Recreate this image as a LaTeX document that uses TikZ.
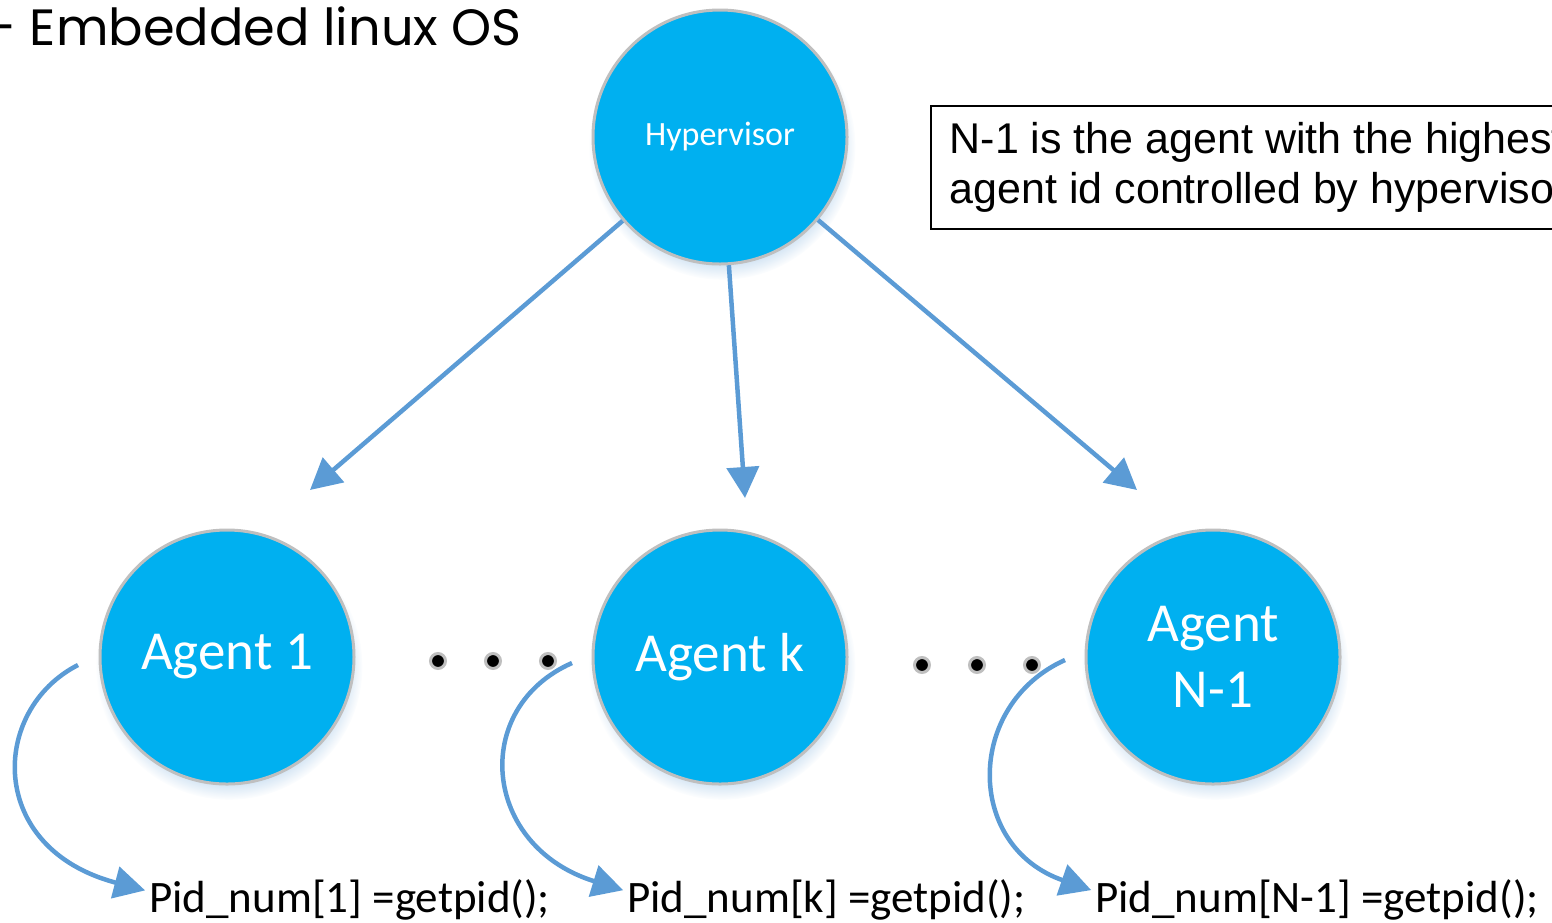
\documentclass[tikz,border=0pt]{standalone}
\usepackage{fontspec}
\setmainfont{Carlito}
\newfontfamily\arialfont{Liberation Sans}
\newfontfamily\gothicfont{Poppins}
\usetikzlibrary{arrows.meta, positioning, shadows, calc}
\definecolor{ccyan}{HTML}{00B0F0}
\definecolor{cblue}{HTML}{5B9BD5}
\definecolor{crim}{HTML}{BFBFBF}
\tikzset{
  every picture/.style={x=1pt, y=-1pt},
  agent/.style={circle, draw=crim, fill=ccyan, line width=3pt, minimum size=254pt, inner sep=0pt, text=white, align=center,
    font=\fontsize{55}{66}\selectfont,
    circular drop shadow={shadow xshift=2pt, shadow yshift=-9pt, shadow scale=1.05, fill=cblue!80, opacity=.4}},
  arrow/.style={-{Triangle[length=31pt, width=32pt]}, draw=cblue, line width=4.5pt},
  call/.style={font=\fontsize{45}{50}\selectfont, anchor=base west, inner sep=0pt},
  note/.style={draw=black, line width=1.5pt, align=left, inner xsep=19pt, anchor=north west, minimum height=123pt,
    font=\arialfont\fontsize{43}{50}\selectfont},
}

\begin{document}
\begin{tikzpicture}[dotmark/.style={draw=crim, fill=black, line width=3pt}]
  \useasboundingbox (0,0) rectangle (1552,922);
  \node[font=\gothicfont\fontsize{51}{60}\selectfont, anchor=base west, inner sep=0pt] (title) at (-12,45) {- Embedded linux OS};
  % hypervisor and agents
  \node[agent, font=\fontsize{34}{40}\selectfont] (hyp) at (720,137) {Hypervisor};
  \node[agent] (a1) at (227,657) {Agent 1};
  \node[agent] (ak) at (720,657) {Agent k};
  \node[agent] (an) at (1213,657) {Agent\\N-1};
  \node[note] (info) at (930,105) {N-1 is the agent with the highest\\agent id controlled by hypervisor};
  \foreach \x in {438,493,548} \filldraw[dotmark] (\x,661) circle[radius=7.5pt];
  \foreach \x in {922,977,1032} \filldraw[dotmark] (\x,665) circle[radius=7.5pt];
  \coordinate (t1) at (310,490);
  \coordinate (tk) at (745,498);
  \coordinate (tn) at (1137,490);
  \draw[arrow] (hyp) -- (t1);
  \draw[arrow] (hyp) -- (tk);
  \draw[arrow] (hyp) -- (tn);
  % getpid calls
  \node[call] (pid1) at (149,912) {Pid\_num[1] =getpid();};
  \node[call] (pidk) at (627,912) {Pid\_num[k] =getpid();};
  \node[call] (pidn) at (1095,912) {Pid\_num[N-1] =getpid();};
  \coordinate (s1) at (78,665);
  \coordinate (sk) at (572,663);
  \coordinate (sn) at (1065,660);
  \draw[arrow, shorten >=4pt] (s1) .. controls +(-88,45) and +(-163,-43) .. ([yshift=8pt]pid1.west);
  \draw[arrow, shorten >=4pt] (sk) .. controls +(-102,45) and +(-145,-45) .. ([yshift=8pt]pidk.west);
  \draw[arrow, shorten >=4pt] (sn) .. controls +(-100,45) and +(-130,-45) .. ([yshift=8pt]pidn.west);
\end{tikzpicture}
\end{document}
